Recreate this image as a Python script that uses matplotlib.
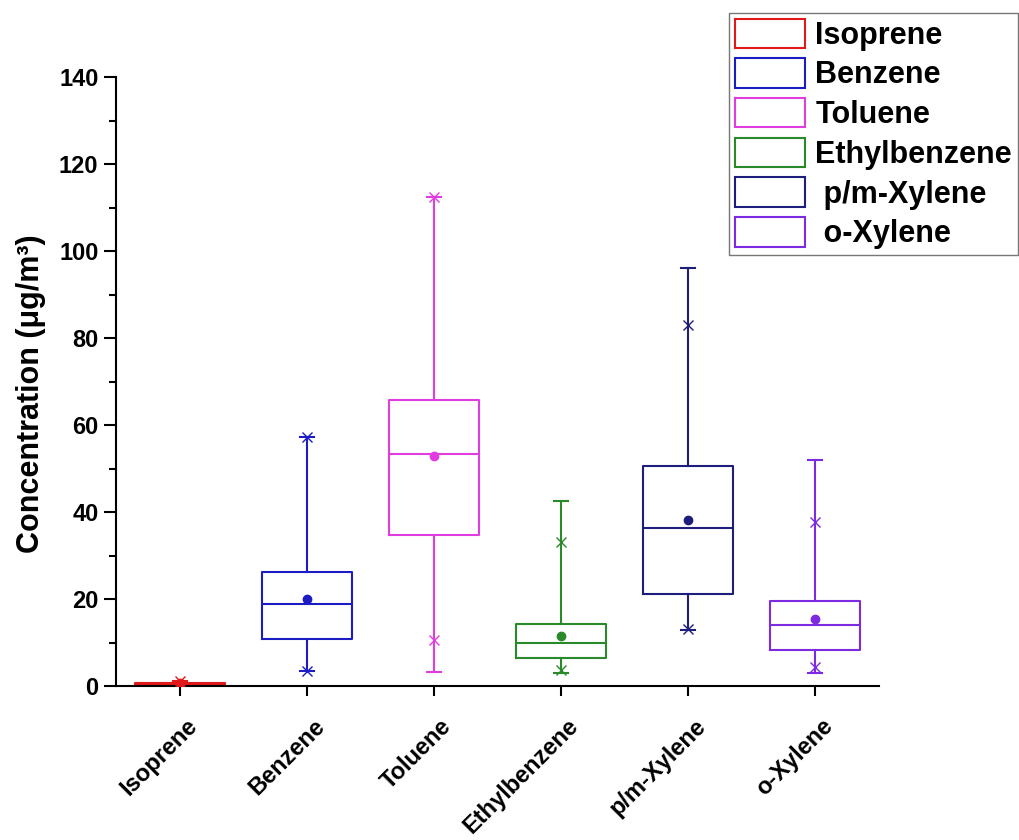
import matplotlib
matplotlib.use("Agg")
import matplotlib.pyplot as plt
from matplotlib.patches import Patch
from matplotlib.ticker import MultipleLocator
import matplotlib.transforms as mtransforms

plt.rcParams['font.family'] = ['Liberation Sans', 'DejaVu Sans']
plt.rcParams['font.weight'] = 'bold'

# Compounds and their box statistics (µg/m³)
categories = ["Isoprene", "Benzene", "Toluene", "Ethylbenzene", "p/m-Xylene", "o-Xylene"]
legend_labels = ["Isoprene", "Benzene", "Toluene", "Ethylbenzene", " p/m-Xylene", " o-Xylene"]
whisker_low = [0.1, 3.5, 3.3, 2.9, 12.9, 3.1]
q1 = [0.15, 10.9, 34.8, 6.4, 21.2, 8.3]
median = [0.5, 18.9, 53.3, 9.9, 36.4, 14.0]
q3 = [0.8, 26.2, 65.7, 14.3, 50.6, 19.6]
whisker_high = [1.2, 57.2, 112.5, 42.5, 96.0, 52.0]
mean = [0.6, 20.1, 52.8, 11.5, 38.1, 15.3]
min_marker = [0.1, 3.5, 10.5, 3.6, 13.0, 4.4]
max_marker = [1.2, 57.2, 112.5, 33.1, 83.0, 37.7]

colors = ["#e01a1a", "#1c1cc4", "#e03ce0", "#2a8a2a", "#1e1e7c", "#7e2ae0"]

fig = plt.figure(figsize=(10.19, 8.4), dpi=100)
ax = fig.add_axes([0.1143, 0.1833, 0.748, 0.725])

positions = list(range(1, len(categories) + 1))

for i, pos in enumerate(positions):
    stats = [dict(whislo=whisker_low[i], q1=q1[i], med=median[i], q3=q3[i],
                  whishi=whisker_high[i], fliers=[], label=categories[i])]
    c = colors[i]
    ax.bxp(stats, positions=[pos], widths=0.71, capwidths=0.11,
           showfliers=False, patch_artist=False,
           boxprops=dict(color=c, linewidth=1.5),
           medianprops=dict(color=c, linewidth=1.5),
           whiskerprops=dict(color=c, linewidth=1.5),
           capprops=dict(color=c, linewidth=1.5),
           manage_ticks=False)
    ax.plot([pos], [mean[i]], 'o', color=c, markersize=6, zorder=4)
    ax.plot([pos, pos], [min_marker[i], max_marker[i]], 'x', color=c,
            markersize=7, markeredgewidth=1.0, linestyle='none', zorder=4)

ax.set_xlim(0.5, 6.5)
ax.set_ylim(0, 140)
ax.set_xticks(positions)
ax.set_xticklabels([])

# Rotated category labels below the ticks
label_offset = mtransforms.ScaledTranslation(4.3 / 72, -20.4 / 72, fig.dpi_scale_trans)
label_trans = ax.get_xaxis_transform() + label_offset
for pos, name in zip(positions, categories):
    ax.text(pos, 0, name, transform=label_trans, rotation=45, ha='right', va='top',
            rotation_mode='anchor', fontsize=17, fontweight='bold', clip_on=False)

ax.yaxis.set_major_locator(MultipleLocator(20))
ax.yaxis.set_minor_locator(MultipleLocator(10))
ax.tick_params(axis='y', which='major', direction='out', length=9, width=1.5,
               labelsize=17, pad=4)
ax.tick_params(axis='y', which='minor', direction='out', length=5, width=1.5)
ax.tick_params(axis='x', which='major', direction='out', length=7, width=1.5)
for lbl in ax.get_yticklabels():
    lbl.set_fontweight('bold')

for side in ('top', 'right'):
    ax.spines[side].set_visible(False)
for side in ('left', 'bottom'):
    ax.spines[side].set_linewidth(1.5)

ax.set_ylabel("Concentration (μg/m³)", fontsize=22, fontweight='bold')
ax.yaxis.set_label_coords(-0.0925, 0.48)

handles = [Patch(facecolor='white', edgecolor=c, linewidth=1.5) for c in colors]
leg = fig.legend(handles, legend_labels, loc='upper right',
                 bbox_to_anchor=(0.999, 0.985), frameon=True, fancybox=False,
                 prop=dict(size=22, weight='bold'), handlelength=2.3,
                 handleheight=1.1, handletextpad=0.33, borderpad=0.2,
                 labelspacing=0.25, borderaxespad=0)
leg.get_frame().set_edgecolor('#555555')
leg.get_frame().set_linewidth(1.0)

fig.savefig("out.png", dpi=100)
